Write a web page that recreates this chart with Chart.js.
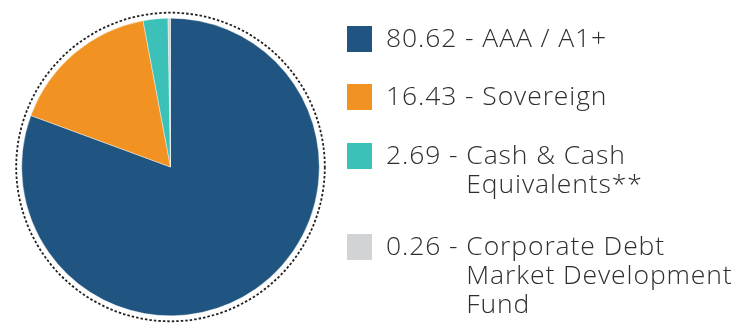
<!DOCTYPE html>
<html>
<head>
<meta charset="utf-8">
<script src="https://cdn.jsdelivr.net/npm/chart.js@4.4.0/dist/chart.umd.min.js"></script>
<style>
  html, body { margin: 0; padding: 0; background: #fff; }
  #wrap { width: 743px; height: 335px; position: relative; }
</style>
</head>
<body>
<div id="wrap"><canvas id="ratingChart" width="743" height="335"></canvas></div>
<script>
// Portfolio rating split (%)
const values = [80.62, 16.43, 2.69, 0.26];
const valueLabels = ['80.62', '16.43', '2.69', '0.26'];
const categories = [
    ['AAA / A1+'],
    ['Sovereign'],
    ['Cash & Cash', 'Equivalents**'],
    ['Corporate Debt', 'Market Development', 'Fund']
];
const colors = ['#1f5580', '#f29222', '#3cc1b9', '#d1d3d4'];

// legend layout
const legendFont = '300 26.5px "Open Sans", sans-serif';
const legendBoxX = 347;
const legendTextX = 386;
const legendTops = [26, 84, 143, 234];
const lineHeight = 29;

const dottedRing = {
    id: 'dottedRing',
    afterDatasetsDraw(chart) {
        const arc = chart.getDatasetMeta(0).data[0];
        if (!arc) return;
        const ctx = chart.ctx;
        ctx.save();
        ctx.beginPath();
        ctx.arc(arc.x, arc.y, arc.outerRadius + 5.5, 0, Math.PI * 2);
        ctx.setLineDash([2.5, 2]);
        ctx.lineWidth = 1.8;
        ctx.strokeStyle = '#222222';
        ctx.stroke();
        ctx.restore();
    }
};

const sideLegend = {
    id: 'sideLegend',
    afterDraw(chart) {
        const ctx = chart.ctx;
        ctx.save();
        ctx.font = legendFont;
        ctx.letterSpacing = '0.9px';
        ctx.textBaseline = 'alphabetic';
        values.forEach((v, i) => {
            const top = legendTops[i];
            ctx.fillStyle = colors[i];
            ctx.fillRect(legendBoxX, top, 25, 26);
            ctx.fillStyle = '#2e2e2e';
            const prefix = valueLabels[i] + ' - ';
            ctx.fillText(prefix, legendTextX, top + 21);
            const indent = legendTextX + ctx.measureText(prefix).width;
            categories[i].forEach((line, j) => {
                ctx.fillText(line, indent, top + 21 + j * lineHeight);
            });
        });
        ctx.restore();
    }
};

new Chart(document.getElementById('ratingChart'), {
    type: 'pie',
    data: {
        labels: categories.map(c => c.join(' ')),
        datasets: [{
            data: values,
            backgroundColor: colors,
            borderColor: '#ffffff',
            borderWidth: 0.4
        }]
    },
    options: {
        responsive: false,
        animation: false,
        layout: { padding: { left: 21, right: 423, top: 18, bottom: 19 } },
        plugins: { legend: { display: false }, tooltip: { enabled: false } }
    },
    plugins: [dottedRing, sideLegend]
});
</script>
</body>
</html>
